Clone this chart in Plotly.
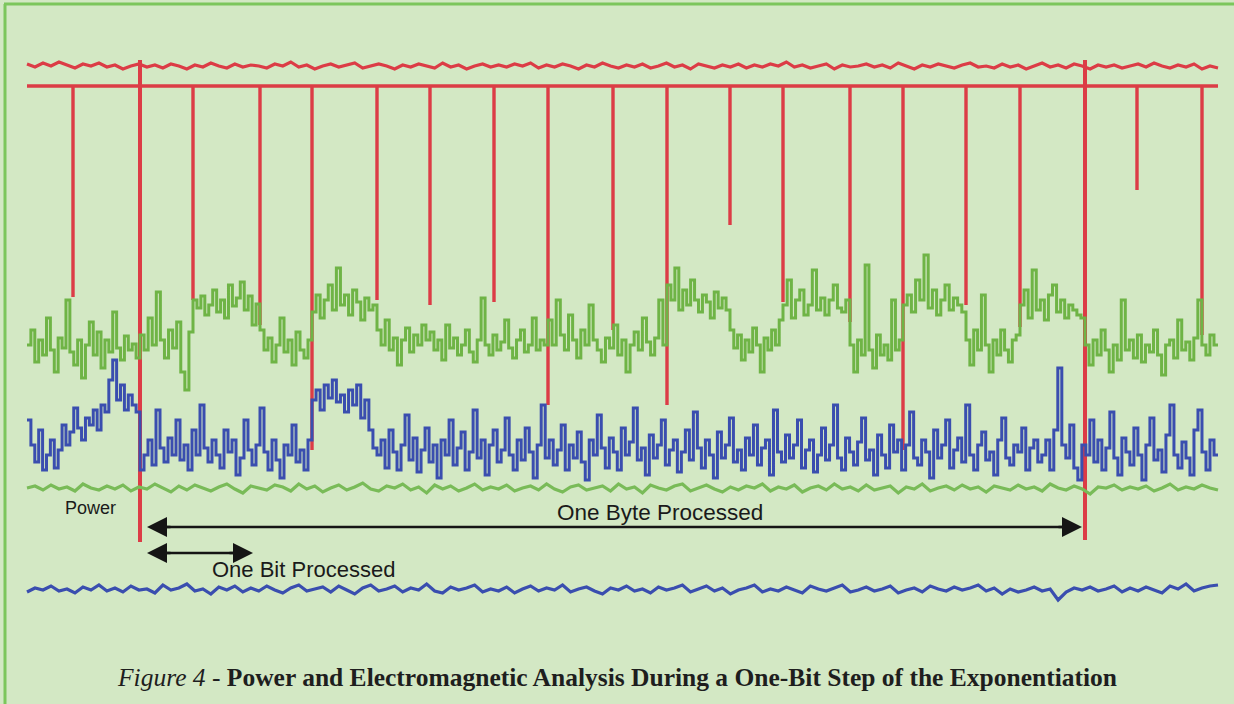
import numpy as np
import plotly.graph_objects as go

# ---------------- data (display level units) -------------
t_start, t_end = 27, 1218

# red trace 2: baseline and dip events (time, dip level)
red2_base = 86
spike_t = [73, 140, 193, 260, 312, 377, 430, 494, 548, 613, 667, 730, 783, 850, 903, 966, 1020, 1085, 1137, 1202]
spike_lvl = [297, 542, 300, 325, 450, 300, 305, 302, 405, 330, 405, 225, 302, 322, 450, 305, 327, 540, 190, 335]
major_t = [140, 1085]
major_top = [60, 60]
major_bot = [542, 540]

# green (power) trace, per bit segment
green_bounds = [27, 140, 193, 260, 312, 377, 430, 548, 667, 730, 783, 850, 903, 966, 1020, 1085, 1218]
green_segs = [
    [345, 330, 362, 340, 355, 318, 350, 372, 338, 348, 300, 352, 365, 340, 378, 345, 322, 355, 332, 368, 340, 352, 312, 348, 360, 336, 350, 344, 358],
    [335, 350, 318, 345, 292, 340, 358, 330, 348, 322, 372, 390, 332],
    [300, 308, 296, 315, 305, 290, 312, 300, 318, 285, 306, 298, 282, 310, 296, 325, 304],
    [330, 350, 338, 362, 345, 318, 352, 340, 365, 332, 350, 358, 340],
    [312, 295, 318, 300, 285, 310, 268, 305, 295, 315, 290, 302, 320, 298, 310, 305],
    [330, 345, 320, 350, 338, 365, 340, 328, 352, 335, 345, 325, 340],
    [332, 350, 340, 360, 325, 348, 338, 355, 345, 330, 352, 362, 340, 298, 345, 355, 335, 350, 342, 320, 348, 358, 340, 330, 352, 345, 318, 350, 340, 345],
    [320, 345, 300, 335, 350, 315, 340, 358, 330, 345, 305, 340, 350, 362, 338, 348, 325, 355, 340, 372, 345, 332, 350, 318, 342, 355, 338, 300, 345],
    [285, 300, 268, 310, 290, 305, 280, 300, 312, 295, 302, 318, 292, 308, 298, 310],
    [330, 348, 335, 360, 340, 352, 328, 345, 372, 338, 350, 330, 345, 320],
    [305, 280, 318, 300, 290, 315, 305, 270, 310, 298, 315, 300, 285, 308, 312, 300],
    [345, 372, 340, 355, 265, 350, 368, 335, 355, 345, 360, 300, 350, 340],
    [305, 295, 312, 280, 300, 255, 308, 290, 315, 300, 285, 310, 298, 305, 312],
    [340, 365, 330, 350, 295, 345, 372, 340, 355, 330, 350, 362, 340, 335],
    [305, 290, 318, 270, 310, 300, 320, 295, 285, 312, 300, 318, 305, 310, 315, 318],
    [345, 365, 340, 355, 330, 350, 372, 345, 360, 300, 350, 340, 358, 335, 362, 345, 352, 330, 355, 375, 345, 340, 358, 320, 350, 342, 360, 338, 300, 345, 355, 335, 345],
]

# blue (EM) trace, per segment
blue_bounds = [27, 140, 312, 377, 1218]
blue_segs = [
    [420, 445, 462, 430, 470, 455, 440, 468, 450, 425, 445, 432, 408, 428, 440, 418, 425, 410, 430, 405, 412, 380, 360, 400, 385, 410, 395, 405, 412],
    [470, 455, 440, 465, 410, 448, 462, 438, 455, 420, 460, 445, 470, 430, 455, 405, 448, 462, 440, 455, 468, 430, 452, 440, 475, 458, 420, 450, 465, 445, 408, 452, 470, 440, 460, 478, 445, 455, 425, 462, 450, 470, 440],
    [400, 390, 410, 385, 398, 380, 402, 395, 412, 390, 405, 385, 418, 400, 430, 448],
    [455, 440, 468, 430, 452, 470, 445, 415, 460, 438, 472, 450, 428, 462, 445,
     478, 440, 455, 420, 465, 448, 432, 470, 452, 410, 458, 440, 475, 445, 430,
     462, 450, 418, 455, 470, 440, 460, 428, 452, 478, 445, 405, 458, 440, 465,
     450, 425, 470, 445, 458, 432, 462, 480, 440, 455, 415, 448, 468, 438, 452,
     470, 428, 455, 442, 408, 460, 448, 475, 435, 458, 445, 420, 465, 450, 440,
     472, 452, 430, 460, 412, 448, 468, 440, 455, 478, 432, 458, 445, 418, 462,
     450, 470, 438, 455, 425, 465, 448, 440, 475, 410, 452, 462, 435, 458, 445,
     420, 468, 450, 440, 472, 455, 428, 460, 445, 405, 458, 470, 438, 452, 465,
     442, 418, 460, 450, 475, 435, 455, 468, 425, 452, 440, 470, 445, 412, 458,
     465, 440, 452, 478, 430, 458, 445, 420, 468, 450, 438, 462, 405, 455, 470,
     445, 432, 460, 452, 475, 440, 418, 458, 465, 445, 452, 428, 470, 448, 440,
     462, 455, 440, 470, 430, 368, 445, 458, 425, 468, 480, 445, 455, 420, 462,
     440, 470, 448, 412, 458, 475, 438, 452, 465, 428, 455, 480, 445, 418, 460,
     450, 472, 435, 405, 455, 468, 442, 458, 475, 430, 410, 452, 470, 440, 455],
]

red_top = [64, 67, 63, 66, 62, 65, 68, 64, 66, 63, 67, 65, 69, 66, 64,
           67, 65, 68, 64, 66, 69, 65, 67, 63, 66, 68, 64, 67, 65, 66,
           68, 64, 66, 62, 67, 65, 69, 66, 64, 67, 65, 63, 68, 66, 64,
           66, 69, 65, 67, 64, 66, 68, 63, 67, 65, 69, 66, 64, 67, 65,
           67, 64, 66, 63, 68, 65, 67, 64, 66, 69, 65, 67, 63, 66, 68,
           65, 67, 64, 68, 66, 63, 67, 65, 69, 64, 66, 68, 65, 67, 64,
           68, 65, 67, 64, 66, 62, 67, 65, 68, 66, 64, 69, 65, 67, 66,
           64, 67, 65, 68, 63, 66, 69, 65, 67, 64, 66, 68, 65, 63, 67,
           66, 68, 64, 67, 65, 69, 66, 63, 67, 65, 68, 64, 66, 69, 65,
           67, 65, 68, 66, 64, 67, 63, 66, 68, 65, 67, 64, 69, 66, 68]

green_flat = [488, 486, 490, 485, 489, 487, 491, 484, 488, 490, 486, 489, 485, 491, 487,
              489, 484, 488, 492, 486, 490, 485, 488, 491, 487, 484, 489, 493, 486, 488,
              490, 485, 487, 491, 484, 489, 486, 492, 488, 485, 490, 487, 483, 489, 491,
              486, 488, 484, 490, 487, 493, 485, 489, 486, 491, 488, 484, 490, 487, 489,
              485, 491, 488, 486, 490, 484, 489, 492, 487, 485, 490, 488, 486, 491, 484,
              489, 487, 493, 485, 488, 490, 486, 484, 491, 488, 485, 489, 492, 487, 490,
              486, 488, 484, 491, 487, 489, 485, 492, 488, 486, 490, 484, 489, 487, 491,
              485, 490, 488, 486, 493, 487, 489, 484, 491, 488, 486, 490, 485, 489, 487,
              492, 486, 488, 490, 485, 489, 487, 491, 484, 488, 490, 486, 489, 494, 487,
              488, 485, 490, 487, 489, 486, 491, 488, 484, 490, 487, 489, 485, 488, 490]

blue_bottom = [592, 588, 590, 586, 591, 589, 593, 587, 590, 585, 591, 588, 592, 586, 590,
               589, 593, 585, 590, 588, 584, 591, 589, 594, 587, 590, 586, 592, 588, 591,
               586, 590, 593, 588, 585, 591, 589, 587, 592, 586, 590, 594, 588, 585, 591,
               589, 586, 592, 588, 590, 584, 591, 593, 587, 590, 588, 585, 592, 589, 591,
               587, 593, 589, 586, 591, 588, 590, 585, 592, 589, 587, 591, 594, 588, 590,
               586, 591, 589, 593, 587, 590, 588, 585, 592, 589, 586, 591, 588, 594, 590,
               588, 585, 592, 589, 591, 587, 590, 593, 586, 589, 591, 588, 585, 592, 590,
               587, 591, 589, 586, 593, 590, 588, 592, 586, 589, 591, 587, 590, 588, 585,
               591, 588, 594, 589, 592, 590, 587, 591, 589, 600, 592, 588, 590, 587, 591,
               589, 586, 592, 588, 591, 587, 590, 593, 586, 589, 584, 591, 588, 586, 585]

# annotation anchors
byte_span = [147, 1082]
byte_y = 527
bit_span = [147, 253]
bit_y = 553

# ---------------- colours ----------------
BG = "#d3e8c4"
RED = "#dc3c46"
GREEN = "#6fb446"
GREEN2 = "#79bb58"
BLUE = "#3a4eaf"
BORDER = "#7cc65c"
INK = "#151515"


def seg_xy(bounds, segs):
    xs, ys = [], []
    for i, seg in enumerate(segs):
        xs.extend(np.linspace(bounds[i], bounds[i + 1], len(seg), endpoint=False))
        ys.extend(seg)
    xs.append(bounds[-1])
    ys.append(segs[-1][-1])
    return xs, ys


def even_x(vals):
    return np.linspace(t_start, t_end, len(vals))


fig = go.Figure()

# red trace 2 with dips
rx, ry = [t_start], [red2_base]
for s, d in zip(spike_t, spike_lvl):
    rx += [s, s, s]
    ry += [red2_base, d, red2_base]
rx.append(t_end)
ry.append(red2_base)
fig.add_trace(go.Scatter(x=rx, y=ry, mode="lines", line=dict(color=RED, width=3.4), hoverinfo="skip"))

mx, my = [], []
for s, a, b in zip(major_t, major_top, major_bot):
    mx += [s, s, None]
    my += [a, b, None]
fig.add_trace(go.Scatter(x=mx, y=my, mode="lines", line=dict(color=RED, width=4), hoverinfo="skip"))

# red top
fig.add_trace(go.Scatter(x=even_x(red_top), y=red_top, mode="lines", line=dict(color=RED, width=3.2), hoverinfo="skip"))

# green power
gx, gy = seg_xy(green_bounds, green_segs)
fig.add_trace(go.Scatter(x=gx, y=gy, mode="lines", line=dict(color=GREEN, width=3, shape="hv"), hoverinfo="skip"))

# blue EM
bx, by = seg_xy(blue_bounds, blue_segs)
fig.add_trace(go.Scatter(x=bx, y=by, mode="lines", line=dict(color=BLUE, width=3, shape="hv"), hoverinfo="skip"))

# flat green and bottom blue
fig.add_trace(go.Scatter(x=even_x(green_flat), y=green_flat, mode="lines", line=dict(color=GREEN2, width=3.2), hoverinfo="skip"))
fig.add_trace(go.Scatter(x=even_x(blue_bottom), y=blue_bottom, mode="lines", line=dict(color=BLUE, width=3.2), hoverinfo="skip"))

annots = []
shapes = []


def double_arrow(span, y):
    shapes.append(dict(type="line", xref="x", yref="y", x0=span[0] + 10, x1=span[1] - 10, y0=y, y1=y,
                       line=dict(color=INK, width=2.5)))
    for end, tail in ((span[0], span[0] + 25), (span[1], span[1] - 25)):
        annots.append(dict(x=end, y=y, ax=tail, ay=y, xref="x", yref="y", axref="x", ayref="y",
                           showarrow=True, arrowhead=2, arrowsize=1.6, arrowwidth=2.5,
                           arrowcolor=INK, text="", standoff=0))


double_arrow(byte_span, byte_y)
double_arrow(bit_span, bit_y)

label_font = dict(family="Liberation Sans, Arial, sans-serif", color="#1a1a1a")
annots.append(dict(x=660, y=512, xref="x", yref="y", text="One Byte Processed",
                   showarrow=False, font=dict(size=22.5, **label_font)))
annots.append(dict(x=303, y=569, xref="x", yref="y", text="One Bit Processed",
                   showarrow=False, font=dict(size=22, **label_font)))
annots.append(dict(x=90, y=508, xref="x", yref="y", text="Power",
                   showarrow=False, font=dict(size=18, **label_font)))
annots.append(dict(x=617, y=677, xref="x", yref="y",
                   text="<i>Figure 4</i> - <b>Power and Electromagnetic Analysis During a One-Bit Step of the Exponentiation</b>",
                   showarrow=False, font=dict(size=25.5, family="Liberation Serif, Times New Roman, serif", color="#1e1e1e")))

shapes += [
    dict(type="line", xref="paper", yref="paper", x0=5 / 1234, x1=5 / 1234, y0=0, y1=1 - 4 / 704,
         line=dict(color=BORDER, width=3)),
    dict(type="line", xref="paper", yref="paper", x0=4 / 1234, x1=1, y0=1 - 4 / 704, y1=1 - 4 / 704,
         line=dict(color=BORDER, width=3)),
]

fig.update_layout(
    width=1234, height=704,
    margin=dict(l=0, r=0, t=0, b=0),
    paper_bgcolor=BG, plot_bgcolor=BG,
    showlegend=False,
    xaxis=dict(range=[0, 1234], visible=False, fixedrange=True),
    yaxis=dict(range=[704, 0], visible=False, fixedrange=True),
    annotations=annots,
    shapes=shapes,
)

fig.write_html("out.html", config={"displayModeBar": False},
               post_script="document.body.style.margin='0';document.body.style.overflow='hidden';document.body.style.background='" + BG + "';")
